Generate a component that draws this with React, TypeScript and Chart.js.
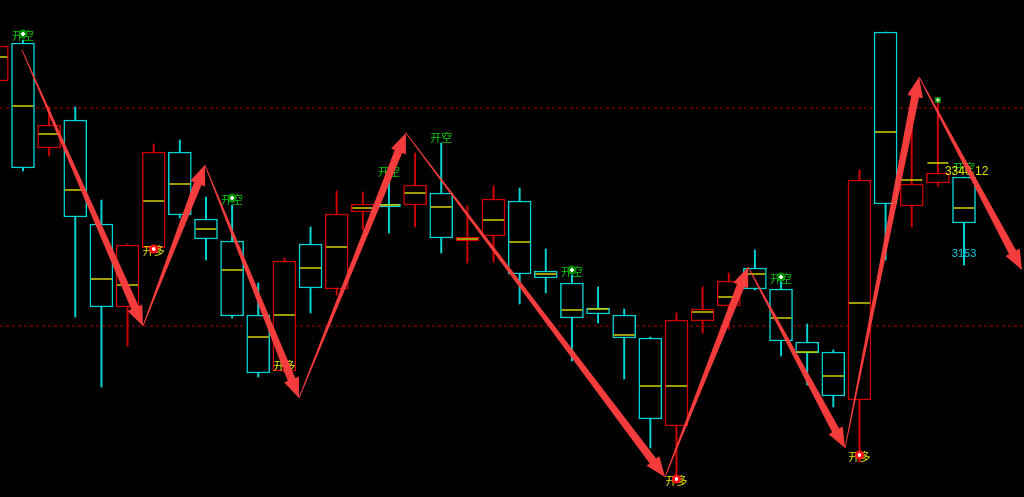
import { useEffect, useRef } from 'react';
import { Chart, registerables } from 'chart.js';

Chart.register(...registerables);

// ---- candle data (index 0 is the partially visible first bar) ----
const opens = [3419, 3457, 3352, 3380, 3276, 3193, 3252, 3348, 3281, 3259, 3185, 3129, 3256, 3211, 3288, 3296, 3295, 3307, 3259, 3264, 3299, 3229, 3217, 3192, 3185, 3162, 3074, 3179, 3194, 3232, 3211, 3158, 3148, 3100, 3468, 3294, 3317, 3323];
const closes = [3454, 3332, 3375, 3283, 3193, 3255, 3348, 3285, 3261, 3184, 3127, 3239, 3212, 3286, 3296, 3293, 3315, 3262, 3263, 3301, 3226, 3222, 3182, 3186, 3162, 3081, 3180, 3191, 3219, 3211, 3159, 3147, 3104, 3320, 3296, 3316, 3327, 3277];
const highs = [3454, 3460, 3393, 3393, 3300, 3256, 3356, 3360, 3303, 3295, 3217, 3242, 3273, 3309, 3308, 3318, 3347, 3357, 3294, 3314, 3312, 3251, 3225, 3213, 3191, 3163, 3187, 3213, 3227, 3250, 3225, 3176, 3150, 3330, 3468, 3383, 3400, 3323];
const lows = [3419, 3329, 3344, 3183, 3113, 3154, 3248, 3282, 3240, 3182, 3123, 3128, 3187, 3205, 3270, 3267, 3273, 3247, 3237, 3238, 3196, 3207, 3139, 3177, 3121, 3052, 3020, 3167, 3171, 3210, 3144, 3115, 3093, 3038, 3240, 3273, 3314, 3235];
const mids = [3443, 3394, 3366, 3310, 3221, 3215, 3299, 3316, 3271, 3230, 3163, 3185, 3232, 3253, 3292, 3295, 3307, 3293, 3261, 3280, 3258, 3226, 3190, 3191, 3165, 3114, 3114, 3188, 3203, 3226, 3182, 3148, 3124, 3197, 3368, 3320, 3337, 3292];

// ---- zigzag arrows (x in bar index units, y in price) ----
const zigX = [0.96, 5.59, 7.96, 11.56, 15.65, 25.56, 28.74, 32.45, 35.28, 39.22];
const zigY = [3450, 3174, 3335, 3102, 3367, 3023, 3233, 3052, 3423, 3230];

// ---- signal labels ----
const sigIdx = [1, 6, 9, 11, 15, 17, 22, 26, 30, 33, 37];
const sigPrice = [3464, 3249, 3300, 3134, 3328, 3362, 3228, 3019, 3221, 3043, 3332];
const sigText = ['开空', '开多', '开空', '开多', '开空', '开空', '开空', '开多', '开空', '开多', '开空'];
const sigDot = [true, true, true, false, false, false, true, true, true, true, false];
const extraDotIdx = [36];
const extraDotPrice = [3400];

// ---- reference levels & price tags ----
const levelPrices = [3392, 3174];
const hiTag = '3340.12';
const hiTagX = 36.27;
const hiTagPrice = 3328;
const loTag = '3153';
const loTagX = 37;
const loTagPrice = 3246;

const X_MIN = 0.12;
const X_MAX = 39.295;
const Y_MIN = 3003;
const Y_MAX = 3500;

const CYAN = '#00d4d4';
const RED = '#d00000';

function drawArrow(ctx: CanvasRenderingContext2D, x0: number, y0: number, x1: number, y1: number) {
  const dx = x1 - x0;
  const dy = y1 - y0;
  const len = Math.hypot(dx, dy);
  const ux = dx / len;
  const uy = dy / len;
  const nx = -uy;
  const ny = ux;
  const headLen = 20;
  const headHalf = 8;
  const shaftEnd = 4;
  const shaftStart = 0.4;
  const bx = x1 - ux * headLen;
  const by = y1 - uy * headLen;
  ctx.beginPath();
  ctx.moveTo(x0 + nx * shaftStart, y0 + ny * shaftStart);
  ctx.lineTo(bx + nx * shaftEnd, by + ny * shaftEnd);
  ctx.lineTo(bx + nx * headHalf, by + ny * headHalf);
  ctx.lineTo(x1, y1);
  ctx.lineTo(bx - nx * headHalf, by - ny * headHalf);
  ctx.lineTo(bx - nx * shaftEnd, by - ny * shaftEnd);
  ctx.lineTo(x0 - nx * shaftStart, y0 - ny * shaftStart);
  ctx.closePath();
  ctx.fill();
}

function drawDot(ctx: CanvasRenderingContext2D, x: number, y: number, color: string) {
  const g = ctx.createRadialGradient(x, y, 0, x, y, 4.5);
  g.addColorStop(0, '#ffffff');
  g.addColorStop(0.35, '#ffffff');
  g.addColorStop(0.45, color);
  g.addColorStop(1, color);
  ctx.fillStyle = g;
  ctx.beginPath();
  ctx.arc(x, y, 4.5, 0, Math.PI * 2);
  ctx.fill();
}

const overlayPlugin = {
  id: 'overlay',
  beforeDraw(chart: any) {
    const { ctx, width, height } = chart;
    ctx.save();
    ctx.fillStyle = '#000000';
    ctx.fillRect(0, 0, width, height);
    ctx.restore();
  },
  afterDatasetsDraw(chart: any) {
    const ctx: CanvasRenderingContext2D = chart.ctx;
    const xs = chart.scales.x;
    const ys = chart.scales.y;
    ctx.save();
    // signal labels
    ctx.textAlign = 'center';
    ctx.textBaseline = 'middle';
    ctx.font = "11px 'Noto Sans CJK SC'";
    sigIdx.forEach((idx, i) => {
      const x = xs.getPixelForValue(idx);
      const y = ys.getPixelForValue(sigPrice[i]);
      const isShort = sigText[i] === '开空';
      ctx.fillStyle = isShort ? '#00c800' : '#e6e600';
      ctx.fillText(sigText[i], x, y);
      if (sigDot[i]) drawDot(ctx, x, y - 2, isShort ? '#009000' : '#ff1010');
    });
    extraDotIdx.forEach((idx, i) => {
      const x = xs.getPixelForValue(idx);
      const y = ys.getPixelForValue(extraDotPrice[i]);
      ctx.fillStyle = '#009000';
      ctx.fillRect(x - 3, y - 3, 6, 6);
      ctx.fillStyle = '#ffffff';
      ctx.fillRect(x - 2, y - 0.5, 4, 1);
      ctx.fillRect(x - 0.5, y - 2, 1, 4);
    });
    // price tags
    ctx.font = "12px 'Liberation Sans'";
    ctx.textAlign = 'left';
    ctx.fillStyle = '#e0e000';
    ctx.fillText(hiTag, xs.getPixelForValue(hiTagX), ys.getPixelForValue(hiTagPrice));
    ctx.font = "11px 'Liberation Sans'";
    ctx.textAlign = 'center';
    ctx.fillStyle = '#00c8e0';
    ctx.fillText(loTag, xs.getPixelForValue(loTagX), ys.getPixelForValue(loTagPrice));
    // zigzag arrows
    ctx.fillStyle = 'rgba(255,62,62,0.96)';
    for (let i = 0; i < zigX.length - 1; i++) {
      drawArrow(
        ctx,
        xs.getPixelForValue(zigX[i]),
        ys.getPixelForValue(zigY[i]),
        xs.getPixelForValue(zigX[i + 1]),
        ys.getPixelForValue(zigY[i + 1])
      );
    }
    ctx.restore();
  },
};

export default function App() {
  const ref = useRef<HTMLCanvasElement>(null);

  useEffect(() => {
    document.body.style.margin = '0';
    document.body.style.background = '#000';
    const colors = opens.map((o, i) => (closes[i] >= o ? RED : CYAN));
    const wickData = opens.map((_, i) => ({ x: i, y: [lows[i], highs[i]] }));
    const boxData = opens.map((o, i) => ({ x: i, y: [Math.min(o, closes[i]), Math.max(o, closes[i])] }));
    const midData = mids.map((m, i) => ({ x: i, y: m }));
    const levelSets = levelPrices.map((p) => ({
      type: 'line' as const,
      data: [{ x: X_MIN, y: p }, { x: X_MAX, y: p }],
      borderColor: '#b00000',
      borderWidth: 1,
      borderDash: [3, 3],
      pointRadius: 0,
      order: 5,
    }));

    const chart = new Chart(ref.current!, {
      type: 'bar',
      data: {
        datasets: [
          ...levelSets,
          {
            type: 'bar',
            data: wickData as any,
            backgroundColor: colors,
            borderWidth: 0,
            barThickness: 1.3,
            grouped: false,
            order: 4,
          },
          {
            type: 'bar',
            data: boxData as any,
            backgroundColor: '#000000',
            borderColor: colors,
            borderWidth: 1.5,
            borderSkipped: false,
            barThickness: 23,
            minBarLength: 3,
            grouped: false,
            order: 3,
          },
          {
            type: 'line',
            data: midData as any,
            showLine: false,
            pointStyle: 'line',
            pointRadius: 10.5,
            pointBorderWidth: 1.5,
            pointBorderColor: '#d2d200',
            pointBackgroundColor: '#d2d200',
            order: 2,
          },
        ] as any,
      },
      options: {
        animation: false,
        responsive: true,
        maintainAspectRatio: false,
        events: [],
        layout: { padding: 0, autoPadding: false },
        plugins: { legend: { display: false }, tooltip: { enabled: false } },
        scales: {
          x: { type: 'linear', min: X_MIN, max: X_MAX, display: false, offset: false },
          y: { type: 'linear', min: Y_MIN, max: Y_MAX, display: false },
        },
      },
      plugins: [overlayPlugin],
    });
    return () => chart.destroy();
  }, []);

  return (
    <div style={{ position: 'fixed', left: 0, top: 0, width: 1024, height: 497, background: '#000' }}>
      <canvas ref={ref} />
    </div>
  );
}
